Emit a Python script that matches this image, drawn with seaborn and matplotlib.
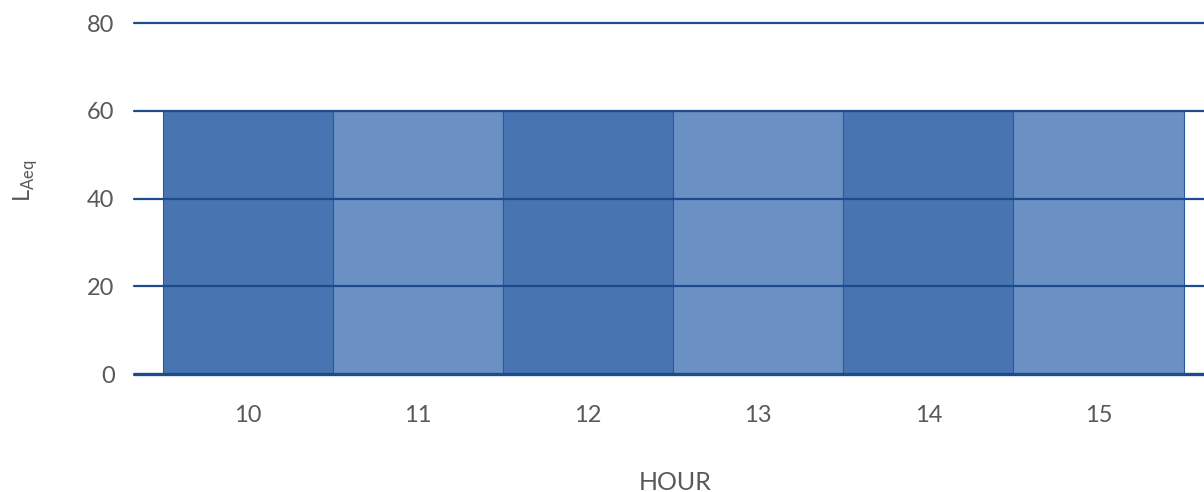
import pandas as pd
import matplotlib
matplotlib.use("Agg")
import matplotlib.pyplot as plt
import seaborn as sns

# data
hours = ["10", "11", "12", "13", "14", "15"]
laeq = [60, 60, 60, 60, 60, 60]
y_ticks = [0, 20, 40, 60, 80]

df = pd.DataFrame({"hour": hours, "laeq": laeq})

sns.set_theme(style="white")
plt.rcParams["font.family"] = ["Lato", "DejaVu Sans"]

dark = "#4874b2"
light = "#6b90c4"
grid_col = "#1c4c8c"
text_col = "#595959"

fig = plt.figure(figsize=(12.04, 4.92), dpi=100)
ax = fig.add_axes([0.1113, 0.2398, 0.8887, 0.7134])

palette = {h: (dark if i % 2 == 0 else light) for i, h in enumerate(hours)}
sns.barplot(data=df, x="hour", y="laeq", hue="hour", palette=palette,
            width=1.0, saturation=1, legend=False, ax=ax,
            edgecolor="#2a5a9e", linewidth=0.8, zorder=1)

ax.set_ylim(0, 80)
ax.set_yticks(y_ticks)
ax.set_xlim(-0.67, 5.62)

# gridlines sit on top of the bars
for v in y_ticks:
    ax.axhline(v, color=grid_col, lw=2.4 if v == 0 else 1.6, zorder=3,
               clip_on=False)

for s in ax.spines.values():
    s.set_visible(False)

ax.tick_params(axis="y", length=0, pad=14, labelsize=17, labelcolor=text_col)
ax.tick_params(axis="x", length=0, pad=22, labelsize=17, labelcolor=text_col)

ax.set_xlabel("HOUR", fontsize=18, color=text_col)
ax.xaxis.label.set_va("baseline")
ax.xaxis.set_label_coords(0.506, -0.33)
ax.set_ylabel(r"L$_{\mathregular{Aeq}}$", fontsize=17, color=text_col)
ax.yaxis.set_label_coords(-0.088, 0.55)

fig.savefig("out.png", dpi=100)
plt.close(fig)
